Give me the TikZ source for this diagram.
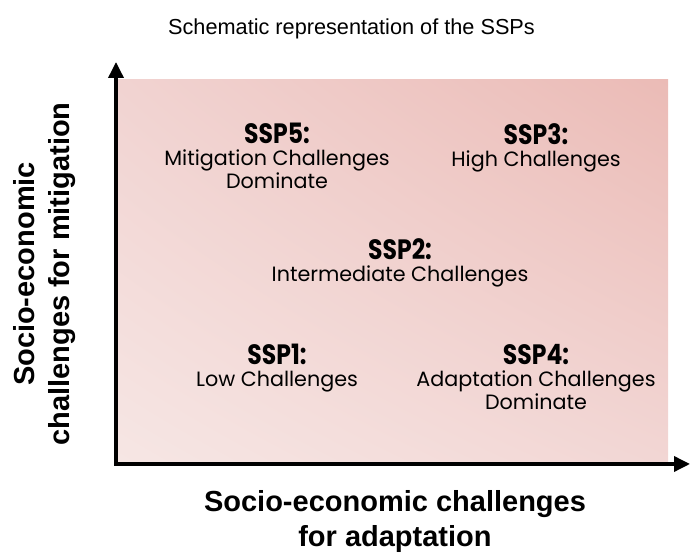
\documentclass[tikz,border=0pt]{standalone}
\usepackage{fontspec}
\usepackage{graphicx}
\setmainfont{Liberation Sans}
\newfontfamily\sspfont{Poppins}
\usetikzlibrary{arrows.meta,positioning,shadings}

\definecolor{bgLL}{HTML}{F6E6E4}
\definecolor{bgLR}{HTML}{F2D6D4}
\definecolor{bgUL}{HTML}{F1D3D1}
\definecolor{bgUR}{HTML}{EBBBB6}

% narrow bold heading for each scenario
\newcommand\ssphead[1]{\scalebox{0.84}[1]{\fontsize{28}{28}\selectfont\bfseries #1}\\[-1pt]}

\tikzset{
  ssp/.style={align=center, inner sep=0pt, anchor=north,
              font=\sspfont\fontsize{20.7}{23}\selectfont},
  axislbl/.style={font=\fontsize{29}{35}\selectfont\bfseries, align=center,
                  inner sep=0pt},
  ttl/.style={font=\fontsize{21.7}{26}\selectfont, anchor=base, inner sep=0pt},
  axisline/.style={{Triangle[length=16pt,width=15pt]}-{Triangle[length=16pt,width=15pt]},
                   line width=3.5pt}
}

\begin{document}
\begin{tikzpicture}[x=1pt, y=1pt]
  \useasboundingbox (0,0) rectangle (691,553);

  % pink field behind the scenarios
  \shade[lower left=bgLL, lower right=bgLR, upper left=bgUL, upper right=bgUR]
    (118,91) rectangle (668,473);

  % axes
  \coordinate (o) at (116,89);
  \coordinate (ytip) at (116,491);
  \coordinate (xtip) at (690,89);
  \draw[axisline] (ytip) -- (o) -- (xtip);

  \node[ttl] (title) at (351.5,518) {Schematic representation of the SSPs};

  % scenario labels
  \node[ssp] (ssp5) at (277,430) {\ssphead{SSP5:}Mitigation Challenges\\Dominate};
  \node[ssp] (ssp3) at (536,430) {\ssphead{SSP3:}High Challenges};
  \node[ssp] (ssp2) at (400,315) {\ssphead{SSP2:}Intermediate Challenges};
  \node[ssp] (ssp1) at (277,209) {\ssphead{SSP1:}Low Challenges};
  \node[ssp] (ssp4) at (536,209) {\ssphead{SSP4:}Adaptation Challenges\\Dominate};

  % axis titles
  \node[axislbl] (xlbl) at (395,31) {Socio-economic challenges\\for adaptation};
  \node[axislbl, rotate=90] (ylbl) at (45,279) {Socio-economic\\challenges for mitigation};
\end{tikzpicture}
\end{document}
